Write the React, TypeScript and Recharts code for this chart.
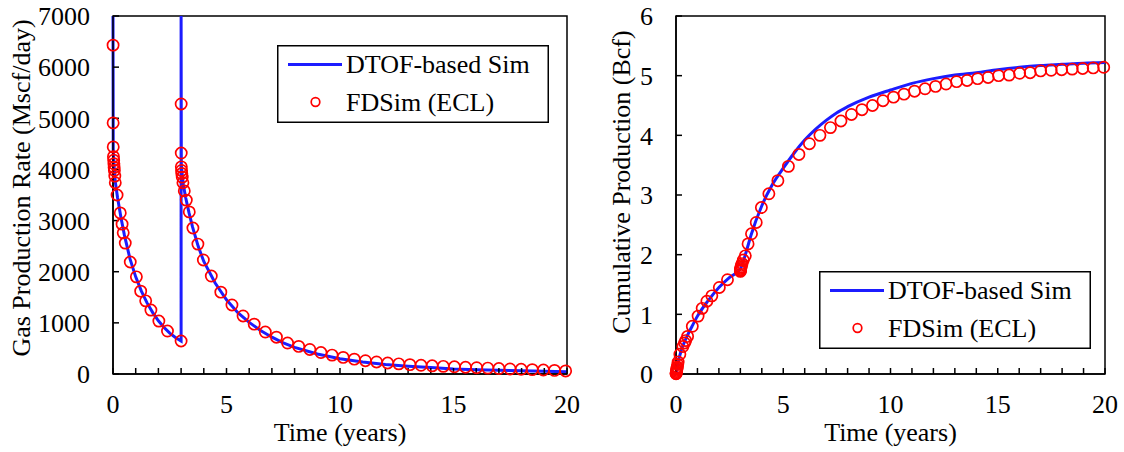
import React from "react";
import { LineChart, Line, XAxis, YAxis, ReferenceArea, Legend } from "recharts";

// FDSim (ECL) report times, years
const fdTime = [
  0.003, 0.006, 0.01, 0.02, 0.03, 0.04, 0.05, 0.06, 0.08, 0.1,
  0.18, 0.32, 0.4, 0.45, 0.54,
  0.76, 1.03, 1.22, 1.44, 1.67, 2.02, 2.4, 3.0,
  3.003, 3.006, 3.01, 3.02, 3.03, 3.05, 3.08, 3.14, 3.23, 3.36, 3.52, 3.74, 3.98, 4.33,
  4.75, 5.24, 5.73, 6.22, 6.71, 7.2, 7.69, 8.18, 8.67, 9.16, 9.65, 10.14, 10.63, 11.12,
  11.61, 12.1, 12.59, 13.08, 13.57, 14.06, 14.55, 15.04, 15.53, 16.02, 16.51, 17.0,
  17.49, 17.98, 18.47, 18.96, 19.45, 19.94,
];
// FDSim gas rate, Mscf/day
const fdRate = [
  6430, 4910, 4440, 4250, 4180, 4110, 4040, 3980, 3870, 3740,
  3500, 3150, 2930, 2760, 2560,
  2190, 1900, 1620, 1430, 1250, 1035, 840, 645,
  5280, 4320, 4050, 3980, 3920, 3850, 3740, 3580, 3400, 3170, 2855, 2540, 2230, 1915,
  1600, 1350, 1135, 975, 820, 720, 605, 540, 480, 420, 370, 325, 290, 260,
  235, 215, 198, 183, 170, 160, 150, 141, 132, 123, 115, 107,
  99, 92, 85, 78, 70, 60,
];
// FDSim cumulative gas, Bcf
const fdCum = [
  0.005, 0.01, 0.02, 0.04, 0.06, 0.08, 0.1, 0.12, 0.16, 0.2,
  0.33, 0.46, 0.52, 0.56, 0.63,
  0.8, 0.97, 1.1, 1.22, 1.31, 1.45, 1.58, 1.72,
  1.73, 1.74, 1.75, 1.77, 1.79, 1.82, 1.85, 1.91, 1.98, 2.18, 2.35, 2.54, 2.79, 3.02,
  3.24, 3.48, 3.68, 3.86, 4.0, 4.13, 4.24, 4.35, 4.43, 4.5, 4.58, 4.64, 4.69, 4.74,
  4.78, 4.82, 4.86, 4.9, 4.92, 4.95, 4.97, 5.0, 5.01, 5.04, 5.05, 5.08,
  5.09, 5.1, 5.11, 5.12, 5.13, 5.14,
];

// DTOF-based simulation (spikes clipped at the top of the axis)
const simRateTime = [
  0, 0.01, 0.03, 0.06, 0.1, 0.2, 0.35, 0.5, 0.75, 1.0, 1.25, 1.5, 1.75, 2.0, 2.25, 2.5, 2.75, 3.0,
  3.0, 3.01, 3.05, 3.1, 3.2, 3.35, 3.5, 3.75, 4.0, 4.5,
  5.0, 5.5, 6.0, 6.5, 7.0, 7.5, 8.0,
  9.0, 10.0, 11.0, 12.0, 13.0, 14.0, 15.0, 16.0, 17.0, 18.0, 19.0, 20.0,
];
const simRate = [
  7000, 4400, 4200, 3980, 3760, 3450, 3060, 2720, 2250, 1900, 1620, 1390, 1200, 1040, 910, 800, 715, 645,
  7000, 4100, 3900, 3700, 3450, 3150, 2880, 2500, 2200, 1780,
  1450, 1200, 1010, 850, 720, 610, 520,
  390, 300, 235, 187, 152, 125, 100, 85, 72, 62, 53, 45,
];
const simCumTime = [
  0, 0.1, 0.25, 0.5, 0.75, 1.0, 1.5, 2.0, 2.5, 3.0,
  3.25, 3.5, 4.0, 4.5, 5.0, 5.5, 6.0, 6.5, 7.0, 7.5, 8.0,
  9.0, 10.0, 11.0, 12.0, 13.0, 14.0, 15.0, 16.0, 17.0, 18.0, 19.0, 20.0,
];
const simCum = [
  0, 0.2, 0.4, 0.62, 0.8, 0.97, 1.23, 1.45, 1.62, 1.76,
  2.02, 2.33, 2.82, 3.18, 3.45, 3.7, 3.92, 4.1, 4.25, 4.38, 4.48,
  4.64, 4.76, 4.87, 4.95, 5.01, 5.05, 5.1, 5.14, 5.17, 5.19, 5.21, 5.22,
];

const timeTicks = [0, 1, 2, 3, 4, 5, 6, 7, 8, 9, 10, 11, 12, 13, 14, 15, 16, 17, 18, 19, 20];
const rateTicks = [0, 1000, 2000, 3000, 4000, 5000, 6000, 7000];
const cumTicks = [0, 1, 2, 3, 4, 5, 6];

const FONT = "'Liberation Serif', 'Times New Roman', serif";
const BLUE = "#1c1cff";
const RED = "#ff0000";
const tickStyle = { fontSize: 26, fontFamily: FONT, fill: "#000" };

const toPoints = (xs: number[], ys: number[]) => xs.map((t, i) => ({ t, v: ys[i] }));

function LegendBox() {
  return (
    <svg width={272} height={78} style={{ display: "block" }}>
      <rect x={0.75} y={0.75} width={270.5} height={76.5} fill="#fff" stroke="#000" strokeWidth={1.5} />
      <line x1={11} x2={65} y1={19.5} y2={19.5} stroke={BLUE} strokeWidth={3} />
      <text x={69} y={28} fontFamily={FONT} fontSize={26} fill="#000">DTOF-based Sim</text>
      <circle cx={38.5} cy={57} r={4.3} fill="none" stroke={RED} strokeWidth={1.7} />
      <text x={69} y={66} fontFamily={FONT} fontSize={26} fill="#000">FDSim (ECL)</text>
    </svg>
  );
}

function Panel({
  left,
  width,
  yAxisWidth,
  marginRight,
  yMax,
  yTicks,
  yTitle,
  titleY,
  sim,
  simCurve,
  fd,
  legendLeft,
  legendTop,
}: {
  left: number;
  width: number;
  yAxisWidth: number;
  marginRight: number;
  yMax: number;
  yTicks: number[];
  yTitle: string;
  titleY: number;
  sim: { t: number; v: number }[];
  simCurve: "linear" | "monotone";
  fd: { t: number; v: number }[];
  legendLeft: number;
  legendTop: number;
}) {
  return (
    <div style={{ position: "absolute", left, top: 0 }}>
      <LineChart width={width} height={452} margin={{ top: 16, right: marginRight, left: 0, bottom: 0 }}>
        <XAxis
          type="number"
          dataKey="t"
          domain={[0, 20]}
          ticks={timeTicks}
          interval={0}
          tickFormatter={(v: number) => (v % 5 === 0 ? String(v) : "")}
          tickSize={-6}
          tickMargin={27}
          height={78}
          axisLine={{ stroke: "#000", strokeWidth: 1.5 }}
          tickLine={{ stroke: "#000", strokeWidth: 1.5 }}
          tick={tickStyle}
          label={{ value: "Time (years)", position: "insideBottom", offset: 11, fontSize: 26, fontFamily: FONT, fill: "#000" }}
        />
        <YAxis
          type="number"
          domain={[0, yMax]}
          ticks={yTicks}
          interval={0}
          tickSize={-6}
          tickMargin={29}
          width={yAxisWidth}
          axisLine={{ stroke: "#000", strokeWidth: 1.5 }}
          tickLine={{ stroke: "#000", strokeWidth: 1.5 }}
          tick={tickStyle}
          label={{
            content: () => (
              <text
                x={30}
                y={titleY}
                transform={`rotate(-90 30 ${titleY})`}
                textAnchor="middle"
                fontSize={26}
                fontFamily={FONT}
                fill="#000"
              >
                {yTitle}
              </text>
            ),
          }}
        />
        <ReferenceArea x1={0} x2={20} y1={0} y2={yMax} fill="none" stroke="#000" strokeWidth={1.5} />
        <Line
          data={sim}
          dataKey="v"
          type={simCurve}
          stroke={BLUE}
          strokeWidth={3}
          dot={false}
          activeDot={false}
          isAnimationActive={false}
        />
        <Line
          data={fd}
          dataKey="v"
          type="linear"
          stroke="none"
          dot={{ r: 5.6, stroke: RED, strokeWidth: 1.7, fill: "none" }}
          activeDot={false}
          isAnimationActive={false}
        />
        <Legend
          layout="horizontal"
          verticalAlign="middle"
          align="center"
          content={() => <LegendBox />}
          wrapperStyle={{ left: legendLeft, top: legendTop, width: 272, height: 78 }}
        />
      </LineChart>
    </div>
  );
}

export default function App() {
  return (
    <div style={{ position: "absolute", left: 0, top: 0, width: 1124, height: 452, background: "#fff" }}>
      <Panel
        left={0}
        width={590}
        yAxisWidth={113}
        marginRight={23}
        yMax={7000}
        yTicks={rateTicks}
        yTitle="Gas Production Rate (Mscf/day)"
        titleY={188}
        sim={toPoints(simRateTime, simRate)}
        simCurve="linear"
        fd={toPoints(fdTime, fdRate)}
        legendLeft={277}
        legendTop={45}
      />
      <Panel
        left={600}
        width={524}
        yAxisWidth={76}
        marginRight={19}
        yMax={6}
        yTicks={cumTicks}
        yTitle="Cumulative Production (Bcf)"
        titleY={182}
        sim={toPoints(simCumTime, simCum)}
        simCurve="monotone"
        fd={toPoints(fdTime, fdCum)}
        legendLeft={219}
        legendTop={271}
      />
    </div>
  );
}
